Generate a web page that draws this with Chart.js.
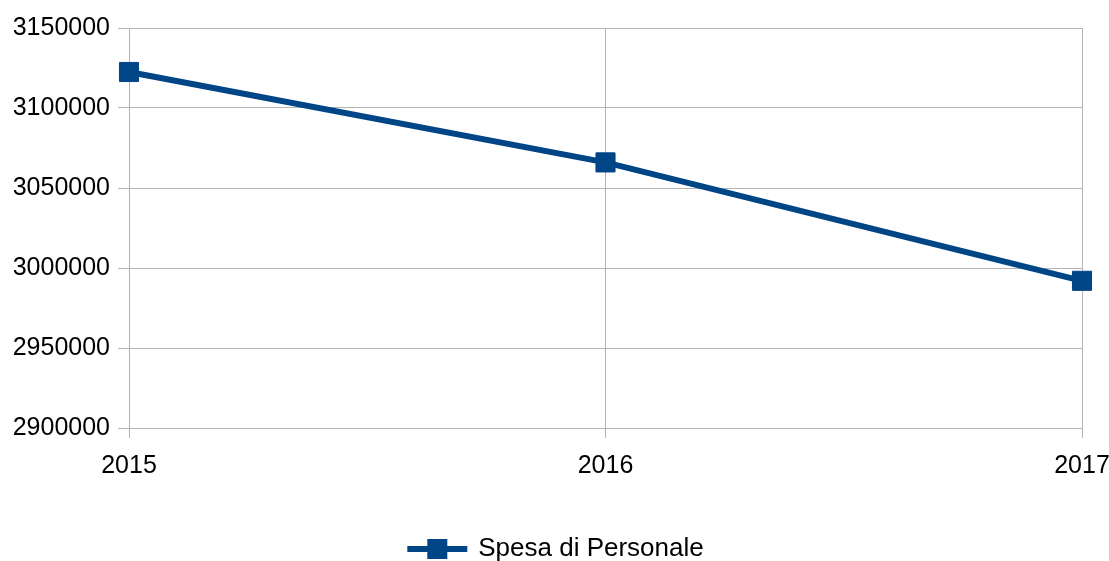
<!DOCTYPE html>
<html>
<head>
<meta charset="utf-8">
<script src="https://cdn.jsdelivr.net/npm/chart.js@4/dist/chart.umd.min.js"></script>
<style>
  html, body { margin: 0; padding: 0; background: #ffffff; overflow: hidden; }
  #wrap { width: 1109px; height: 561px; position: relative; }
</style>
</head>
<body>
<div id="wrap"><canvas id="c" width="1109" height="561"></canvas></div>
<script>
const categories = ["2015", "2016", "2017"];
const seriesName = "Spesa di Personale";
const seriesValues = [3122500, 3066000, 2992000];
const yMin = 2900000;
const yMax = 3150000;
const yStep = 50000;

const LINE = "#004586";
const GRID = "#b3b3b3";
const FONT = "'Liberation Sans', Arial, sans-serif";

// legend symbol: line with square marker
const sym = document.createElement("canvas");
sym.width = 68; sym.height = 20;
(function () {
  const g = sym.getContext("2d");
  g.fillStyle = LINE;
  g.fillRect(6, 7, 60, 6);
  g.fillRect(26, 0, 20, 20);
})();

// center the legend on the full canvas width (not the padded area)
const legendCenter = {
  id: "legendCenter",
  afterLayout(chart) {
    const l = chart.legend;
    if (l) { l.right += 27; l.width += 27; }
  }
};

new Chart(document.getElementById("c"), {
  type: "line",
  data: {
    labels: categories,
    datasets: [{
      label: seriesName,
      data: seriesValues,
      borderColor: LINE,
      backgroundColor: LINE,
      borderWidth: 6,
      pointStyle: "rect",
      pointRadius: 13.5,
      pointHoverRadius: 13.5,
      pointBorderWidth: 1,
      pointBorderColor: LINE,
      pointBackgroundColor: LINE,
      tension: 0,
      fill: false
    }]
  },
  plugins: [legendCenter],
  options: {
    responsive: false,
    animation: false,
    events: [],
    layout: { padding: { top: 28, right: 27, left: 0, bottom: -11 } },
    plugins: {
      tooltip: { enabled: false },
      legend: {
        position: "bottom",
        labels: {
          usePointStyle: true,
          pointStyle: sym,
          pointStyleWidth: 60,
          boxHeight: 20,
          padding: 0,
          color: "#000000",
          font: { family: FONT, size: 26 }
        }
      }
    },
    scales: {
      x: {
        type: "category",
        offset: false,
        grid: { color: GRID, lineWidth: 1, drawTicks: true, tickLength: 10 },
        border: { color: GRID, width: 1 },
        ticks: { color: "#000000", font: { family: FONT, size: 25 }, padding: 13, maxRotation: 0 },
        afterFit: (s) => { s.height = 108; s.paddingRight = 0; s.paddingLeft = 0; }
      },
      y: {
        min: yMin,
        max: yMax,
        grid: { color: GRID, lineWidth: 1, drawTicks: true, tickLength: 11 },
        border: { color: GRID, width: 1 },
        ticks: {
          stepSize: yStep,
          color: "#000000",
          font: { family: FONT, size: 25 },
          padding: 8,
          callback: (v) => String(v)
        },
        afterFit: (s) => { s.width = 129; s.paddingTop = 0; s.paddingBottom = 0; }
      }
    }
  }
});
</script>
</body>
</html>
